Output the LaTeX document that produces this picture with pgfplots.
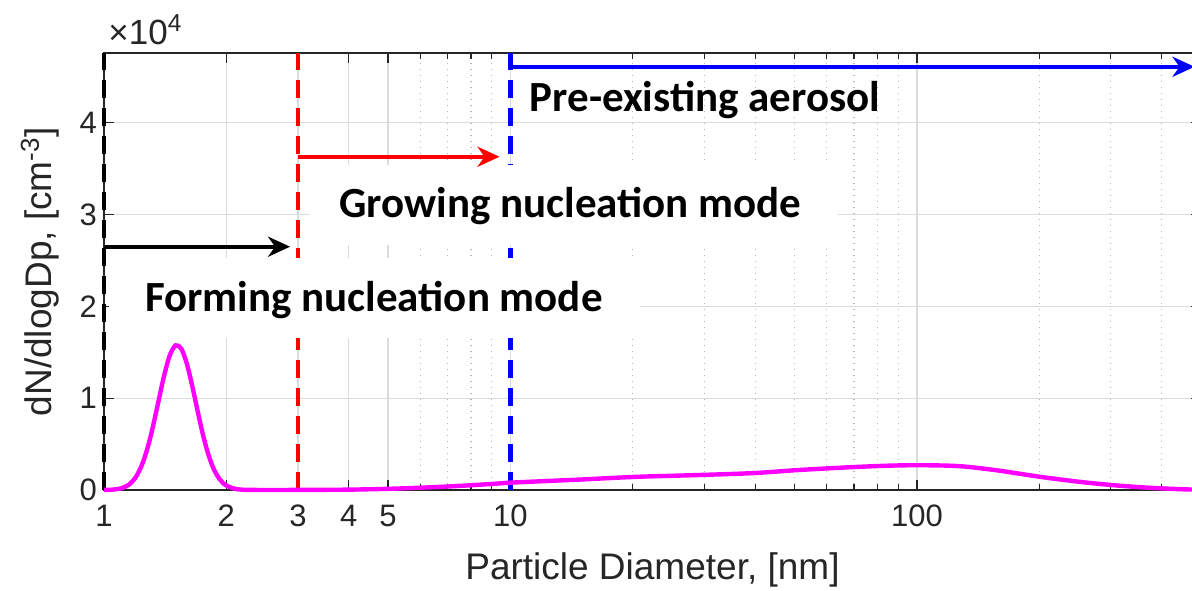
\documentclass[border=0pt]{standalone}
\usepackage{pgfplots}
\pgfplotsset{compat=1.18}
\usepackage{pgfplotstable}
\usepackage{fontspec}
\setmainfont{Liberation Sans}
\newfontfamily\annotfont{Carlito}
\usetikzlibrary{arrows.meta}

\definecolor{axgray}{gray}{0.15}
\definecolor{gridgray}{gray}{0.86}
\definecolor{minorgray}{gray}{0.72}
\definecolor{psdmagenta}{rgb}{1,0,1}
\definecolor{pureblue}{rgb}{0,0,1}
\definecolor{purered}{rgb}{1,0,0}

% particle number size distribution (dN/dlogDp, cm^-3) against diameter (nm)
\pgfplotstableread{
d     n
1.00  8
1.05  42
1.10  173
1.15  560
1.20  1460
1.25  3140
1.30  5700
1.35  8900
1.40  12120
1.45  14610
1.50  15750
1.55  15380
1.60  13720
1.65  11260
1.70  8590
1.75  6110
1.80  4090
1.85  2580
1.90  1550
1.95  890
2.00  490
2.10  130
2.20  30
2.40  5
2.70  5
3.00  10
4.00  40
5.00  130
6.00  250
7.00  380
8.00  520
9.00  660
10.0  800
12.0  960
15.0  1150
20.0  1420
25.0  1550
30.0  1650
40.0  1850
50.0  2150
60.0  2350
70.0  2500
85.0  2650
100   2700
120   2650
135   2500
160   2100
200   1450
250   900
300   550
350   320
400   180
450   80
500   30
}\psd

\tikzset{
  modeline/.style={line width=2.2pt, dash pattern=on 9pt off 5pt},
  modearrow/.style={line width=1.9pt, -{Stealth[length=11pt,width=10pt,inset=3.5pt]}},
  modetext/.style={font=\annotfont\bfseries\fontsize{21.5}{24}\selectfont, anchor=base, inner sep=0pt},
}

\begin{document}
\begin{tikzpicture}
\useasboundingbox (-52pt,-50pt) rectangle (544pt,245pt);
\begin{axis}[
  at={(0,0)}, anchor=south west,
  scale only axis, width=548.5pt, height=218.5pt,
  xmode=log, log basis x=10,
  xmin=1, xmax=500, ymin=0, ymax=47600,
  xtick={1,2,3,4,5,10,100}, xticklabels={1,2,3,4,5,10,100},
  minor xtick={6,7,8,9,20,30,40,50,60,70,80,90,200,300,400},
  ytick={0,10000,20000,30000,40000}, yticklabels={0,1,2,3,4},
  scaled y ticks=false,
  grid=both,
  major grid style={gridgray, line width=0.6pt},
  minor grid style={minorgray, line width=0.6pt, dash pattern=on 0.6pt off 2.4pt},
  tick align=inside,
  major tick length=5pt, minor tick length=3pt,
  every tick/.style={axgray, line width=0.6pt},
  axis line style={axgray, line width=0.7pt},
  ticklabel style={font=\fontsize{15.5}{18}\selectfont, text=axgray},
  xticklabel style={yshift=-4pt},
  every axis x label/.style={at={(rel axis cs:0.5,0)}, yshift=-40pt, anchor=center,
    font=\fontsize{18.5}{22}\selectfont, text=axgray},
  every axis y label/.style={at={(rel axis cs:0,0.5)}, xshift=-32pt, rotate=90, anchor=center,
    font=\fontsize{18.5}{22}\selectfont, text=axgray},
  xlabel={Particle Diameter, [nm]},
  ylabel={dN/dlogDp, [cm\textsuperscript{-3}]},
  clip=false,
]

% boundaries between the modes
\addplot[black, modeline] coordinates {(1,0) (1,47600)};
\addplot[purered, modeline] coordinates {(3,0) (3,47600)};
\addplot[pureblue, modeline] coordinates {(10,0) (10,47600)};

% white panels behind two of the labels
\fill[white] (axis cs:1.03,16580) rectangle (axis cs:20.8,25300);
\fill[white] (axis cs:3.21,26720) rectangle (axis cs:63.9,35440);

% size ranges of the modes
\draw[black, modearrow] (axis cs:1,26500) -- (axis cs:2.87,26500);
\draw[purered, modearrow] (axis cs:3,36300) -- (axis cs:9.4,36300);
\draw[pureblue, modearrow] (axis cs:10,46100) -- (axis cs:482,46100);

\node[modetext] at (axis cs:4.615,19400) {Forming nucleation mode};
\node[modetext] at (axis cs:14.05,29700) {Growing nucleation mode};
\node[modetext] at (axis cs:30.1,41200) {Pre-existing aerosol};

% measured distribution
\addplot[psdmagenta, line width=2.2pt, smooth] table[x=d, y=n] {\psd};

% exponent of the y axis
\node[anchor=base west, inner sep=0pt, text=axgray, font=\fontsize{17.5}{20}\selectfont]
  at ([xshift=2pt, yshift=4.5pt]rel axis cs:0,1) {×10\textsuperscript{4}};
\end{axis}
\end{tikzpicture}
\end{document}
